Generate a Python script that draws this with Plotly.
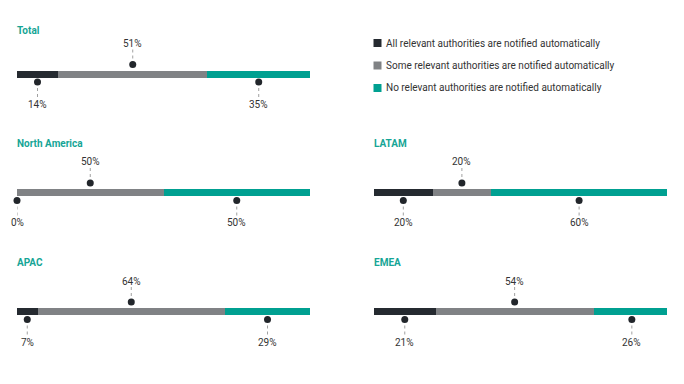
import plotly.graph_objects as go

# ---------------- data ----------------
regions = ["Total", "North America", "LATAM", "APAC", "EMEA"]
series_names = [
    "All relevant authorities are notified automatically",
    "Some relevant authorities are notified automatically",
    "No relevant authorities are notified automatically",
]
all_notified = [14, 0, 20, 7, 21]
some_notified = [51, 50, 20, 64, 54]
none_notified = [35, 50, 60, 29, 26]

# ---------------- style / layout ----------------
OFF = 8                    # page body margin of the html page
FW, FH = 684 - 2 * OFF, 384 - 2 * OFF
colors = ["#252a30", "#808285", "#00a091"]
title_color = "#16a596"
text_color = "#333333"
dot_color = "#22262b"
line_color = "#a0a0a0"
FONT = "Roboto"


def px_x(p):
    return (p - OFF) / FW


def px_y(p):
    return 1 - (p - OFF) / FH


# per panel: left px, right px, bar centre px, title offset (px above bar)
panels = [
    (17, 310, 73.5, 43.5),
    (17, 310, 192, 48.5),
    (374, 667, 192, 48.5),
    (17, 310, 311, 48.5),
    (374, 667, 311, 48.5),
]
label_side = [-1, 1, -1]  # below, above, below

series_vals = [all_notified, some_notified, none_notified]

fig = go.Figure()
layout_axes = {}
annotations = []

for i, region in enumerate(regions):
    x0, x1, c, toff = panels[i]
    sfx = "" if i == 0 else str(i + 1)
    xa, ya = "x" + sfx, "y" + sfx
    layout_axes["xaxis" + sfx] = dict(
        domain=[px_x(x0), px_x(x1)], range=[0, 100], visible=False,
        anchor=ya, fixedrange=True,
    )
    layout_axes["yaxis" + sfx] = dict(
        domain=[px_y(c + 50), px_y(c - 50)], range=[-50, 50],
        visible=False, anchor=xa, fixedrange=True,
    )
    vals = [s[i] for s in series_vals]
    for k, v in enumerate(vals):
        fig.add_trace(go.Bar(
            x=[v], y=[0], orientation="h", width=7,
            marker=dict(color=colors[k], line=dict(width=0)),
            xaxis=xa, yaxis=ya, showlegend=False, hoverinfo="skip",
        ))
    # dots, connectors and labels at segment centres
    cum = 0
    for k, v in enumerate(vals):
        centre = cum + v / 2
        cum += v
        side = label_side[k]
        dot_y = 9 if side > 0 else -8.5
        lab_y = 30 if side > 0 else -31
        end_y = 24 if side > 0 else -25
        fig.add_trace(go.Scatter(
            x=[centre, centre], y=[dot_y, end_y], mode="lines",
            line=dict(color=line_color, width=1, dash="dot"),
            xaxis=xa, yaxis=ya, showlegend=False, hoverinfo="skip",
            cliponaxis=False,
        ))
        fig.add_trace(go.Scatter(
            x=[centre], y=[dot_y], mode="markers",
            marker=dict(color=dot_color, size=7),
            xaxis=xa, yaxis=ya, showlegend=False, hoverinfo="skip",
            cliponaxis=False,
        ))
        annotations.append(dict(
            x=centre, y=lab_y, xref=xa, yref=ya, text=f"{v}%",
            showarrow=False, xanchor="center", yanchor="middle",
            font=dict(family=FONT, size=10, color=text_color),
        ))
    annotations.append(dict(
        x=0, y=toff, xref=xa, yref=ya, text=f"<b>{region}</b>",
        showarrow=False, xanchor="left", yanchor="middle", xshift=-2,
        font=dict(family=FONT, size=10, color=title_color),
    ))

# manual legend
shapes = []
legend_rows = [43, 65.5, 88]
for k, name in enumerate(series_names):
    yc = legend_rows[k]
    shapes.append(dict(
        type="rect", xref="paper", yref="paper",
        x0=px_x(373.5), x1=px_x(381.5), y0=px_y(yc + 4), y1=px_y(yc - 4),
        fillcolor=colors[k], line=dict(width=0),
    ))
    annotations.append(dict(
        x=px_x(384), y=px_y(yc), xref="paper", yref="paper", text=name,
        showarrow=False, xanchor="left", yanchor="middle",
        font=dict(family=FONT, size=10, color=text_color),
    ))

fig.update_layout(
    width=FW, height=FH, margin=dict(l=0, r=0, t=0, b=0),
    paper_bgcolor="white", plot_bgcolor="white",
    barmode="stack", bargap=0,
    annotations=annotations, shapes=shapes,
    font=dict(family=FONT),
    **layout_axes,
)

fig.write_html("out.html")
